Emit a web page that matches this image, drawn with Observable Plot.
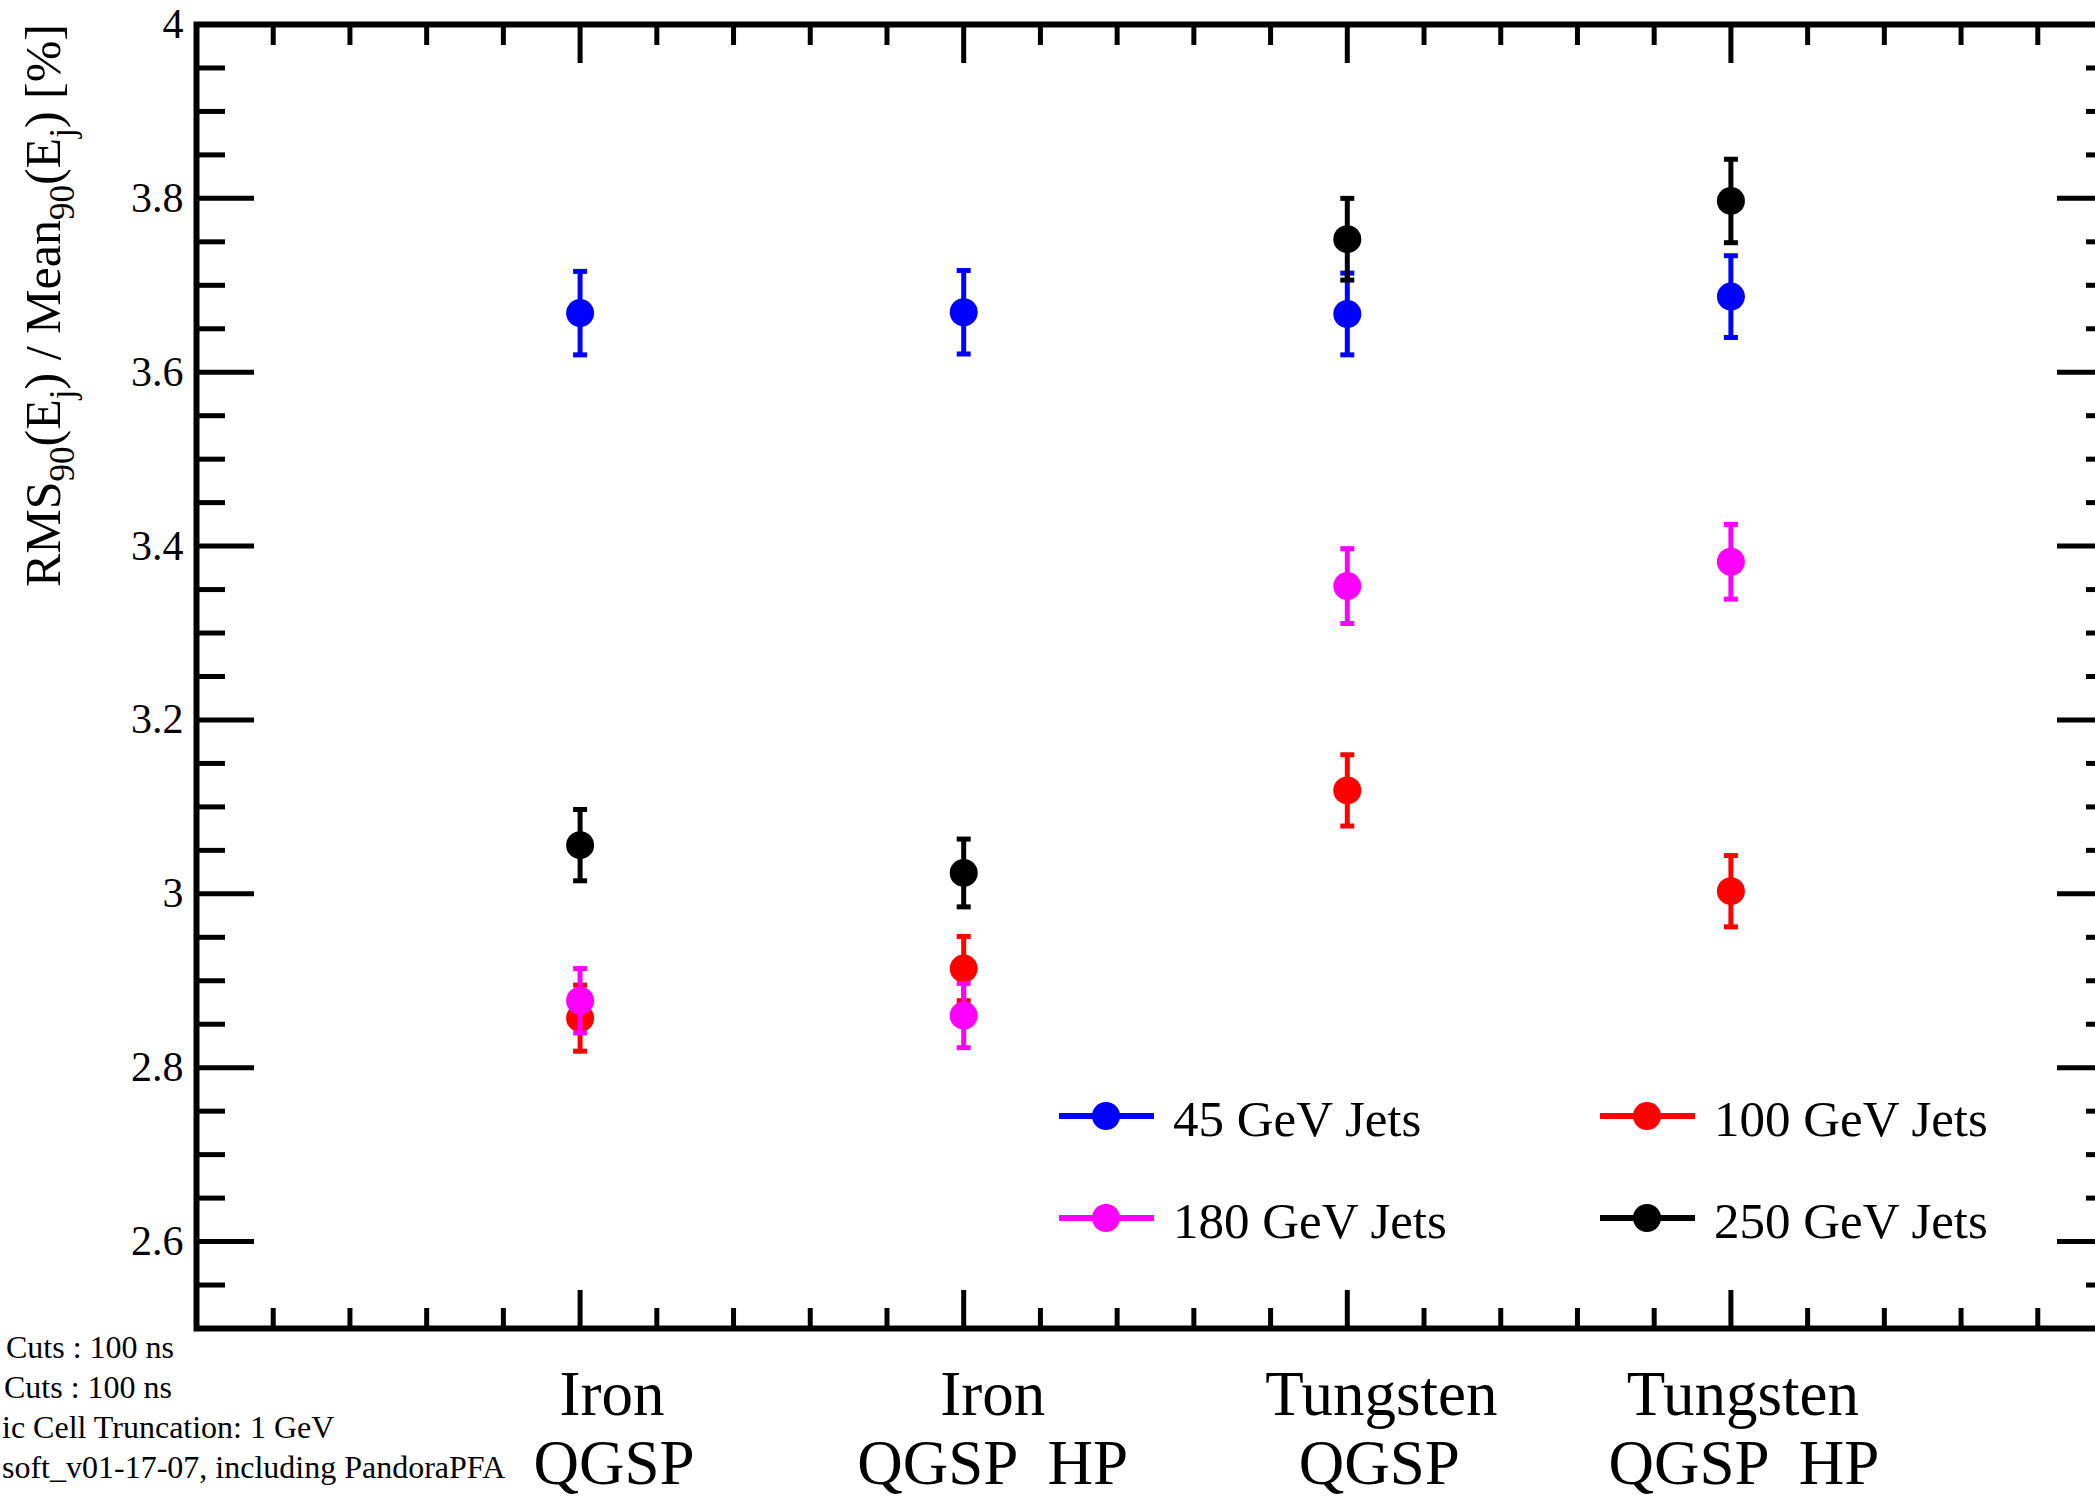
<!DOCTYPE html>
<html><head><meta charset="utf-8">
<script src="https://cdn.jsdelivr.net/npm/d3@7"></script>
<script src="https://cdn.jsdelivr.net/npm/@observablehq/plot@0.6"></script>
<style>html,body{margin:0;padding:0;background:#fff;overflow:hidden}</style>
</head><body><div id="chart"></div>
<script>
// ---- data ----
const categories = [1, 2, 3, 4];
const materials = ["Iron", "Iron", "Tungsten", "Tungsten"];
const physicsLists = ["QGSP", "QGSP  HP", "QGSP", "QGSP  HP"];
const seriesNames = ["45 GeV Jets", "100 GeV Jets", "180 GeV Jets", "250 GeV Jets"];
const seriesColors = ["#0000ff", "#ff0000", "#ff00ff", "#000000"];
const res45 = [3.668, 3.669, 3.667, 3.687];
const err45 = [0.048, 0.048, 0.047, 0.047];
const res100 = [2.857, 2.914, 3.119, 3.003];
const err100 = [0.038, 0.037, 0.041, 0.041];
const res180 = [2.877, 2.860, 3.354, 3.382];
const err180 = [0.037, 0.037, 0.043, 0.043];
const res250 = [3.056, 3.024, 3.753, 3.797];
const err250 = [0.041, 0.039, 0.047, 0.048];
const yTickValues = [2.6, 2.8, 3, 3.2, 3.4, 3.6, 3.8, 4];
const yTickLabels = ["2.6", "2.8", "3", "3.2", "3.4", "3.6", "3.8", "4"];
const xMajorTicks = [1, 2, 3, 4];
const notes = ["Cuts : 100 ns", "Cuts : 100 ns", "ic Cell Truncation: 1 GeV", "soft_v01-17-07, including PandoraPFA"];

// ---- layout ----
const W = 2095, H = 1498;
const FONT = "Liberation Serif, Times New Roman, serif";
const values = [res45, res100, res180, res250];
const errors = [err45, err100, err180, err250];
const series = seriesNames.map((name, s) => ({
  name, color: seriesColors[s],
  rows: categories.map((c, i) => ({x: c, v: values[s][i], e: errors[s][i]}))
}));
const xMinor = d3.range(1, 25).map(k => k * 0.2).filter(v => Math.abs(v - Math.round(v)) > 1e-6);
const yMinor = d3.range(0, 31).map(k => 2.5 + k * 0.05).filter(v => !yTickValues.some(t => Math.abs(t - v) < 1e-6));
const capSymbol = {draw(ctx) { ctx.rect(-7, -2.5, 14, 5); }};
const labelDx = [32, 29, 34, 12];
const labelDx2 = [34, 29, 32, 13];

const marks = [
  Plot.frame({stroke: "black", strokeWidth: 6}),
  Plot.axisX(xMajorTicks, {anchor: "top", tickSize: -38, strokeWidth: 5, fill: "none", label: null}),
  Plot.axisX(xMajorTicks, {anchor: "bottom", tickSize: -38, strokeWidth: 5, fill: "none", label: null}),
  Plot.axisX(xMinor, {anchor: "top", tickSize: -20, strokeWidth: 5, fill: "none", label: null}),
  Plot.axisX(xMinor, {anchor: "bottom", tickSize: -20, strokeWidth: 5, fill: "none", label: null}),
  Plot.axisY(yTickValues, {anchor: "left", tickSize: -58, strokeWidth: 5, fill: "none", label: null}),
  Plot.axisY(yTickValues, {anchor: "right", tickSize: -58, strokeWidth: 5, fill: "none", label: null}),
  Plot.axisY(yMinor, {anchor: "left", tickSize: -29, strokeWidth: 5, fill: "none", label: null}),
  Plot.axisY(yMinor, {anchor: "right", tickSize: -29, strokeWidth: 5, fill: "none", label: null}),
  Plot.axisY(yTickValues, {anchor: "left", tickSize: 0, tickPadding: 13, fontSize: 42, fontFamily: FONT, fill: "black", label: null,
    tickFormat: d => yTickLabels[yTickValues.findIndex(t => Math.abs(t - d) < 1e-6)]})
];
categories.forEach((c, i) => {
  marks.push(Plot.text([c], {x: d => d, frameAnchor: "bottom", dy: 86, dx: labelDx[i], text: () => materials[i], fontSize: 63, fontFamily: FONT, fill: "black"}));
  marks.push(Plot.text([c], {x: d => d, frameAnchor: "bottom", dy: 155, dx: labelDx2[i], text: () => physicsLists[i], fontSize: 63, fontFamily: FONT, fill: "black"}));
});
series.forEach(s => {
  marks.push(Plot.ruleX(s.rows, {x: "x", y1: d => d.v - d.e, y2: d => d.v + d.e, stroke: s.color, strokeWidth: 5}));
  marks.push(Plot.dot(s.rows, {x: "x", y: d => d.v + d.e, symbol: capSymbol, fill: s.color, stroke: "none", r: 3}));
  marks.push(Plot.dot(s.rows, {x: "x", y: d => d.v - d.e, symbol: capSymbol, fill: s.color, stroke: "none", r: 3}));
  marks.push(Plot.dot(s.rows, {x: "x", y: "v", r: 14, fill: s.color, stroke: "none"}));
});

const svg = Plot.plot({
  width: W, height: H,
  marginLeft: 196, marginRight: -19, marginTop: 24, marginBottom: 170,
  style: {fontFamily: FONT, fontSize: "42px", background: "white", overflow: "hidden"},
  x: {domain: [0, 5], axis: null},
  y: {domain: [2.5, 4], axis: null},
  marks
});
document.getElementById("chart").appendChild(svg);

// ---- annotations (legend, y title, notes) ----
const g = d3.select(svg).append("g").attr("font-family", FONT).attr("text-anchor", "start");
const legendPos = [[1059, 1116], [1600, 1116], [1059, 1218], [1600, 1218]];
series.forEach((s, i) => {
  const [lx, ly] = legendPos[i];
  g.append("line").attr("x1", lx).attr("x2", lx + 95).attr("y1", ly).attr("y2", ly)
    .attr("stroke", s.color).attr("stroke-width", 6);
  g.append("circle").attr("cx", lx + 47).attr("cy", ly).attr("r", 14).attr("fill", s.color);
  g.append("text").attr("x", lx + 114).attr("y", ly + 20).attr("font-size", 51)
    .attr("text-anchor", "start").attr("fill", "black").text(s.name);
});

const title = g.append("text").attr("transform", "translate(60,24) rotate(-90)")
  .attr("text-anchor", "end").attr("font-size", 50).attr("fill", "black");
const parts = [["RMS", 0], ["90", 1], ["(E", 0], ["j", 1], [") / Mean", 0], ["90", 1], ["(E", 0], ["j", 1], [") [%]", 0]];
let shifted = false;
parts.forEach(([t, sub]) => {
  const ts = title.append("tspan").text(t);
  if (sub) { ts.attr("font-size", 35).attr("dy", shifted ? 0 : 14); shifted = true; }
  else { ts.attr("dy", shifted ? -14 : 0); shifted = false; }
});
title.style("white-space", "pre");

const noteX = [6, 4, 2, 2];
notes.forEach((n, i) => {
  g.append("text").attr("x", noteX[i]).attr("y", 1358 + i * 40).attr("font-size", 32)
    .attr("text-anchor", "start").attr("fill", "black").text(n);
});
</script></body></html>
